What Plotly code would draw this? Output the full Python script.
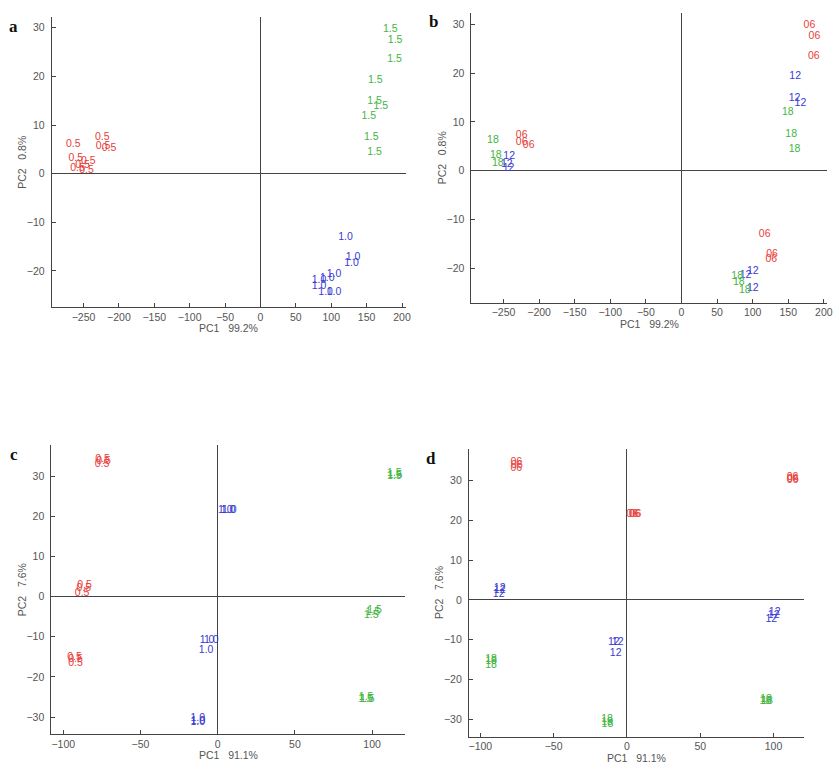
import plotly.graph_objects as go

W, H = 837, 767

# ---------------- data ----------------
# Panel a (labels 0.5 / 1.0 / 1.5)
a_red_x = [-264.6, -223.5, -222.5, -214.1, -260.9, -243.1, -251.5, -258.5, -245.9]
a_red_y = [6.1, 7.4, 5.7, 5.1, 3.1, 2.6, 1.8, 1.1, 0.6]
a_blue_x = [120.1, 130.9, 128.6, 103.8, 94.4, 82.7, 82.7, 92.1, 103.8]
a_blue_y = [-13.1, -17.2, -18.4, -20.6, -21.5, -22.0, -23.2, -24.4, -24.4]
a_green_x = [183.3, 190.3, 189.3, 162.2, 161.3, 170.2, 152.9, 156.6, 161.3]
a_green_y = [29.6, 27.4, 23.5, 19.2, 14.8, 13.8, 11.8, 7.5, 4.3]

# Panel b (labels 06 / 12 / 18)
b_red_x = [179.7, 186.7, 185.8, 116.9, 127.1, 126.2, -224.4, -224.4, -214.6]
b_red_y = [29.7, 27.5, 23.5, -13.0, -17.1, -18.2, 7.3, 5.7, 5.1]
b_blue_x = [159.7, 158.8, 167.1, 100.1, 89.9, 100.1, -242.0, -245.3, -243.0]
b_blue_y = [19.3, 14.8, 13.8, -20.7, -21.4, -24.1, 2.9, 1.3, 0.5]
b_green_x = [149.4, 154.1, 158.8, 78.2, 80.5, 88.9, -264.9, -260.7, -257.9]
b_green_y = [12.0, 7.5, 4.4, -21.7, -23.0, -24.5, 6.3, 3.2, 1.4]

# Panel c (labels 0.5 / 1.0 / 1.5)
c_red_x = [-74.5, -74.0, -74.9, -86.3, -86.7, -87.8, -92.7, -92.1, -92.1]
c_red_y = [34.1, 33.6, 32.9, 2.7, 2.1, 0.8, -15.1, -15.6, -16.5]
c_blue_x = [4.9, 6.7, 7.5, -6.9, -4.1, -7.5, -12.9, -12.7, -12.9]
c_blue_y = [21.4, 21.4, 21.4, -11.0, -10.8, -13.3, -30.4, -31.0, -31.4]
c_green_x = [114.4, 114.8, 114.4, 101.5, 100.4, 99.4, 96.1, 96.8, 95.7]
c_green_y = [30.8, 30.2, 29.9, -3.5, -4.0, -4.7, -25.1, -25.5, -25.5]

# Panel d (labels 06 / 12 / 18)
d_red_x = [-75.5, -75.0, -75.5, 3.6, 5.2, 5.9, 113.0, 113.2, 113.0]
d_red_y = [34.6, 33.9, 33.0, 21.6, 21.6, 21.5, 30.8, 30.3, 30.0]
d_blue_x = [-86.8, -86.8, -87.5, -9.0, -6.3, -7.7, 100.8, 100.1, 98.5]
d_blue_y = [2.8, 2.3, 1.3, -10.6, -10.6, -13.4, -3.2, -3.9, -4.8]
d_green_x = [-92.7, -92.7, -92.7, -13.6, -13.6, -13.3, 94.9, 95.6, 94.5]
d_green_y = [-14.9, -15.5, -16.5, -30.0, -30.8, -31.3, -25.0, -25.5, -25.6]

labels_ac = ["0.5", "1.0", "1.5"]
labels_bd = ["06", "12", "18"]

ticks_ab_x = [-250, -200, -150, -100, -50, 0, 50, 100, 150, 200]
ticks_ab_y = [-20, -10, 0, 10, 20, 30]
ticks_cd_x = [-100, -50, 0, 50, 100]
ticks_cd_y = [-30, -20, -10, 0, 10, 20, 30]

titles = {
    "a": ("PC1\u00a0\u00a0\u00a099.2%", "PC2\u00a0\u00a0\u00a00.8%"),
    "b": ("PC1\u00a0\u00a0\u00a099.2%", "PC2\u00a0\u00a0\u00a00.8%"),
    "c": ("PC1\u00a0\u00a0\u00a091.1%", "PC2\u00a0\u00a0\u00a07.6%"),
    "d": ("PC1\u00a0\u00a0\u00a091.1%", "PC2\u00a0\u00a0\u00a07.6%"),
}

RED, BLUE, GREEN = "#e8403a", "#3a3ad4", "#3fb53f"

# ---------------- layout geometry (pixels) ----------------
panels = {
    # name: (left, right, top, bottom, xrange, yrange, xticks, yticks)
    "a": (52, 408, 17, 307, [-295, 205], [-27.4, 32.2], ticks_ab_x, ticks_ab_y),
    "b": (474.3, 831.7, 12.7, 302.7, [-295, 204], [-27.1, 32.4], ticks_ab_x, ticks_ab_y),
    "c": (51.7, 407.3, 445, 734.3, [-107.7, 121.2], [-34.3, 37.8], ticks_cd_x, ticks_cd_y),
    "d": (471.7, 809.3, 449.3, 736.7, [-107.8, 121.1], [-34.4, 37.9], ticks_cd_x, ticks_cd_y),
}

series = {
    "a": [(a_red_x, a_red_y, labels_ac[0], RED), (a_blue_x, a_blue_y, labels_ac[1], BLUE),
          (a_green_x, a_green_y, labels_ac[2], GREEN)],
    "b": [(b_red_x, b_red_y, labels_bd[0], RED), (b_blue_x, b_blue_y, labels_bd[1], BLUE),
          (b_green_x, b_green_y, labels_bd[2], GREEN)],
    "c": [(c_red_x, c_red_y, labels_ac[0], RED), (c_blue_x, c_blue_y, labels_ac[1], BLUE),
          (c_green_x, c_green_y, labels_ac[2], GREEN)],
    "d": [(d_red_x, d_red_y, labels_bd[0], RED), (d_blue_x, d_blue_y, labels_bd[1], BLUE),
          (d_green_x, d_green_y, labels_bd[2], GREEN)],
}

fig = go.Figure()
layout = dict(
    width=W, height=H, margin=dict(l=0, r=0, t=0, b=0),
    paper_bgcolor="white", plot_bgcolor="white", showlegend=False,
    font=dict(family="Liberation Sans, Arial, sans-serif", size=10, color="#555"),
)
annotations = []
AX = "#444"

for i, (name, (l, r, t, b, xr, yr, xt, yt)) in enumerate(panels.items(), start=1):
    xa = "xaxis" if i == 1 else f"xaxis{i}"
    ya = "yaxis" if i == 1 else f"yaxis{i}"
    xref = "x" if i == 1 else f"x{i}"
    yref = "y" if i == 1 else f"y{i}"
    common = dict(showgrid=False, zeroline=True, zerolinecolor=AX, zerolinewidth=1,
                  showline=True, linecolor=AX, linewidth=1, ticks="inside", ticklen=4,
                  tickcolor=AX, tickfont=dict(size=10.5, color="#555"), mirror=False)
    layout[xa] = dict(domain=[l / W, r / W], range=xr, tickvals=xt, anchor=yref, **common)
    layout[ya] = dict(domain=[1 - b / H, 1 - t / H], range=yr, tickvals=yt, anchor=xref,
                      ticklabelstandoff=4, **common)
    for xs, ys, lab, col in series[name]:
        fig.add_trace(go.Scatter(x=xs, y=ys, mode="text", text=[lab] * len(xs),
                                 textposition="middle center",
                                 textfont=dict(size=10.5, color=col,
                                               family="Liberation Sans, Arial, sans-serif"),
                                 xaxis=xref, yaxis=yref, hoverinfo="skip"))
    xt_txt, yt_txt = titles[name]
    annotations.append(dict(text=xt_txt, xref="paper", yref="paper", x=(l + r) / 2 / W,
                            y=1 - (b + 21) / H, xanchor="center", yanchor="middle",
                            showarrow=False, font=dict(size=10.5, color="#555")))
    annotations.append(dict(text=yt_txt, xref="paper", yref="paper", x=(l - 30) / W,
                            y=1 - (t + b) / 2 / H, xanchor="center", yanchor="middle",
                            textangle=-90, showarrow=False, font=dict(size=10.5, color="#555")))
    annotations.append(dict(text=f"<b>{name}</b>", xref="paper", yref="paper",
                            x=(l - 38) / W, y=1 - (t + 9) / H, xanchor="center", yanchor="middle",
                            showarrow=False,
                            font=dict(size=17, color="#111", family="Liberation Serif, Times New Roman, serif")))

layout["annotations"] = annotations
fig.update_layout(**layout)
fig.write_html("out.html")
